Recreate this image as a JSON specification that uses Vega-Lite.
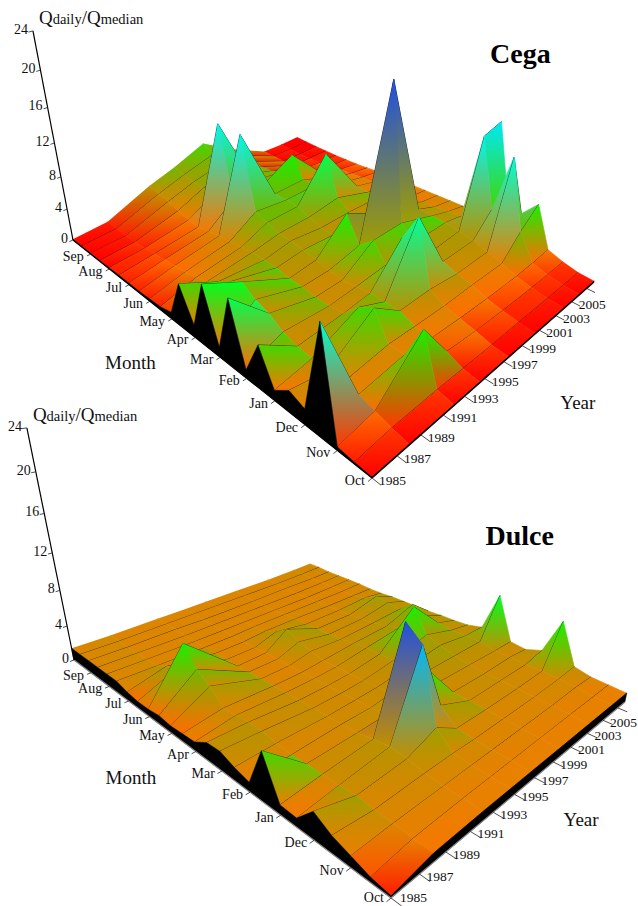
{"$schema":"https://vega.github.io/schema/vega-lite/v6.json","width":638,"height":906,"padding":0,"autosize":{"type":"none"},"background":"white","config":{"view":{"stroke":null}},
"params":[{"name":"kA","value":[-266.76,-272.6]},{"name":"kB","value":[423.9,519]},{"name":"kC","value":[372,391]},{"name":"kD","value":[-132,158.2]},{"name":"kE","value":[-100.15,124.2]},{"name":"kF","value":[478,898]},{"name":"kG","value":[0.4417,0.6003]},{"name":"kH","value":[0.3399,0.4561]},{"name":"kI","value":[-0.008045,-0.0096]},{"name":"kVX","value":[332,354]},{"name":"kVY","value":[1592,2040]},
{"name":"kRamp","value":["#ff0000","#ff1c00","#ff3800","#ff5400","#ff6c00","#f57800","#e88000","#dc8500","#d08a00","#c48e00","#b89200","#ac9800","#a09e00","#70b800","#40d800","#18f000","#00ff20","#00ff50","#00ff70","#00ff98","#00ffb8","#00ffd0","#00f8e8","#00e8f8","#00d0f8","#00b8f8","#0098f0","#1080e8","#1868e0","#2050e0","#1840d8","#1030d0","#0820c8","#0010c0"]}],
"datasets":{"grid":[
{"p":0,"y":2008,"m":12,"q":0.1},{"p":0,"y":2006,"m":12,"q":0.1},{"p":0,"y":2004,"m":12,"q":0.2},{"p":0,"y":2000.5,"m":12,"q":2.5},{"p":0,"y":1997.5,"m":12,"q":5},{"p":0,"y":1994.5,"m":12,"q":3.5},{"p":0,"y":1992,"m":12,"q":2.5},{"p":0,"y":1988,"m":12,"q":0.3},{"p":0,"y":1985,"m":12,"q":0.1},
{"p":0,"y":2008,"m":11.5,"q":0.1},{"p":0,"y":2006,"m":11.5,"q":0.1},{"p":0,"y":2004,"m":11.5,"q":0.2},{"p":0,"y":2000.5,"m":11.5,"q":2.3},{"p":0,"y":1997.5,"m":11.5,"q":4.2},{"p":0,"y":1994.5,"m":11.5,"q":3.2},{"p":0,"y":1992,"m":11.5,"q":2.2},{"p":0,"y":1988,"m":11.5,"q":0.25},{"p":0,"y":1985,"m":11.5,"q":0.1},
{"p":0,"y":2008,"m":11,"q":0.1},{"p":0,"y":2006,"m":11,"q":0.1},{"p":0,"y":2004,"m":11,"q":0.2},{"p":0,"y":2000.5,"m":11,"q":2.2},{"p":0,"y":1997.5,"m":11,"q":3.8},{"p":0,"y":1994.5,"m":11,"q":3},{"p":0,"y":1992,"m":11,"q":2},{"p":0,"y":1988,"m":11,"q":0.2},{"p":0,"y":1985,"m":11,"q":0.1},
{"p":0,"y":2008,"m":10.5,"q":0.15},{"p":0,"y":2006,"m":10.5,"q":0.2},{"p":0,"y":2004,"m":10.5,"q":0.3},{"p":0,"y":2000.5,"m":10.5,"q":2.2},{"p":0,"y":1997.5,"m":10.5,"q":3.6},{"p":0,"y":1994.5,"m":10.5,"q":3},{"p":0,"y":1992,"m":10.5,"q":1.6},{"p":0,"y":1988,"m":10.5,"q":0.3},{"p":0,"y":1985,"m":10.5,"q":0.1},
{"p":0,"y":2008,"m":10,"q":0.2},{"p":0,"y":2006,"m":10,"q":0.3},{"p":0,"y":2004,"m":10,"q":0.5},{"p":0,"y":2000.5,"m":10,"q":2.4},{"p":0,"y":1997.5,"m":10,"q":3.6},{"p":0,"y":1994.5,"m":10,"q":3},{"p":0,"y":1992,"m":10,"q":1.2},{"p":0,"y":1988,"m":10,"q":0.4},{"p":0,"y":1985,"m":10,"q":0.15},
{"p":0,"y":2008,"m":9.5,"q":0.3},{"p":0,"y":2006,"m":9.5,"q":0.5},{"p":0,"y":2004,"m":9.5,"q":1},{"p":0,"y":2000.5,"m":9.5,"q":3},{"p":0,"y":1997.5,"m":9.5,"q":3.6},{"p":0,"y":1994.5,"m":9.5,"q":12.5},{"p":0,"y":1992,"m":9.5,"q":1.2},{"p":0,"y":1988,"m":9.5,"q":0.6},{"p":0,"y":1985,"m":9.5,"q":0.2},
{"p":0,"y":2008,"m":9,"q":0.4},{"p":0,"y":2006,"m":9,"q":0.8},{"p":0,"y":2004,"m":9,"q":1.3},{"p":0,"y":2000.5,"m":9,"q":6},{"p":0,"y":1997.5,"m":9,"q":4},{"p":0,"y":1994.5,"m":9,"q":4},{"p":0,"y":1992,"m":9,"q":1.5},{"p":0,"y":1988,"m":9,"q":0.8},{"p":0,"y":1985,"m":9,"q":0.2},
{"p":0,"y":2008,"m":8.5,"q":0.6},{"p":0,"y":2006,"m":8.5,"q":1},{"p":0,"y":2004,"m":8.5,"q":1.6},{"p":0,"y":2000.5,"m":8.5,"q":3.5},{"p":0,"y":1997.5,"m":8.5,"q":3.5},{"p":0,"y":1994.5,"m":8.5,"q":12.6},{"p":0,"y":1992,"m":8.5,"q":1.8},{"p":0,"y":1988,"m":8.5,"q":1},{"p":0,"y":1985,"m":8.5,"q":0.2},
{"p":0,"y":2008,"m":8,"q":0.8},{"p":0,"y":2006,"m":8,"q":1.2},{"p":0,"y":2004,"m":8,"q":1.8},{"p":0,"y":2000.5,"m":8,"q":3.5},{"p":0,"y":1997.5,"m":8,"q":3.5},{"p":0,"y":1994.5,"m":8,"q":4},{"p":0,"y":1992,"m":8,"q":2},{"p":0,"y":1988,"m":8,"q":1.2},{"p":0,"y":1985,"m":8,"q":0.3},
{"p":0,"y":2008,"m":7.5,"q":1},{"p":0,"y":2006,"m":7.5,"q":1.3},{"p":0,"y":2004,"m":7.5,"q":2},{"p":0,"y":2000.5,"m":7.5,"q":8.3},{"p":0,"y":1997.5,"m":7.5,"q":3.5},{"p":0,"y":1994.5,"m":7.5,"q":3.5},{"p":0,"y":1992,"m":7.5,"q":2.2},{"p":0,"y":1988,"m":7.5,"q":1.5},{"p":0,"y":1985,"m":7.5,"q":0.4},
{"p":0,"y":2008,"m":7,"q":1.1},{"p":0,"y":2006,"m":7,"q":1.4},{"p":0,"y":2004,"m":7,"q":2},{"p":0,"y":2000.5,"m":7,"q":3.5},{"p":0,"y":1997.5,"m":7,"q":3},{"p":0,"y":1994.5,"m":7,"q":3},{"p":0,"y":1992,"m":7,"q":2.5},{"p":0,"y":1988,"m":7,"q":2},{"p":0,"y":1985,"m":7,"q":0.8},
{"p":0,"y":2008,"m":6.5,"q":1.2},{"p":0,"y":2006,"m":6.5,"q":1.5},{"p":0,"y":2004,"m":6.5,"q":2.2},{"p":0,"y":2000.5,"m":6.5,"q":2.5},{"p":0,"y":1997.5,"m":6.5,"q":2.5},{"p":0,"y":1994.5,"m":6.5,"q":3},{"p":0,"y":1992,"m":6.5,"q":2.5},{"p":0,"y":1988,"m":6.5,"q":3},{"p":0,"y":1985,"m":6.5,"q":5.2},
{"p":0,"y":2008,"m":6,"q":1.3},{"p":0,"y":2006,"m":6,"q":1.6},{"p":0,"y":2004,"m":6,"q":2.5},{"p":0,"y":2000.5,"m":6,"q":2.5},{"p":0,"y":1997.5,"m":6,"q":2.5},{"p":0,"y":1994.5,"m":6,"q":2.8},{"p":0,"y":1992,"m":6,"q":2.5},{"p":0,"y":1988,"m":6,"q":4},{"p":0,"y":1985,"m":6,"q":1.5},
{"p":0,"y":2008,"m":5.5,"q":1.4},{"p":0,"y":2006,"m":5.5,"q":1.8},{"p":0,"y":2004,"m":5.5,"q":3},{"p":0,"y":2000.5,"m":5.5,"q":4},{"p":0,"y":1997.5,"m":5.5,"q":6},{"p":0,"y":1994.5,"m":5.5,"q":2.5},{"p":0,"y":1992,"m":5.5,"q":2.2},{"p":0,"y":1988,"m":5.5,"q":5},{"p":0,"y":1985,"m":5.5,"q":7.2},
{"p":0,"y":2008,"m":5,"q":1.5},{"p":0,"y":2006,"m":5,"q":2},{"p":0,"y":2004,"m":5,"q":3},{"p":0,"y":2000.5,"m":5,"q":20},{"p":0,"y":1997.5,"m":5,"q":3},{"p":0,"y":1994.5,"m":5,"q":2.2},{"p":0,"y":1992,"m":5,"q":2.2},{"p":0,"y":1988,"m":5,"q":4},{"p":0,"y":1985,"m":5,"q":1.2},
{"p":0,"y":2008,"m":4.5,"q":1.6},{"p":0,"y":2006,"m":4.5,"q":2.2},{"p":0,"y":2004,"m":4.5,"q":3},{"p":0,"y":2000.5,"m":4.5,"q":4.5},{"p":0,"y":1997.5,"m":4.5,"q":4.5},{"p":0,"y":1994.5,"m":4.5,"q":2},{"p":0,"y":1992,"m":4.5,"q":2},{"p":0,"y":1988,"m":4.5,"q":3.5},{"p":0,"y":1985,"m":4.5,"q":7.8},
{"p":0,"y":2008,"m":4,"q":2},{"p":0,"y":2006,"m":4,"q":2.5},{"p":0,"y":2004,"m":4,"q":3},{"p":0,"y":2000.5,"m":4,"q":3},{"p":0,"y":1997.5,"m":4,"q":2.5},{"p":0,"y":1994.5,"m":4,"q":2.2},{"p":0,"y":1992,"m":4,"q":2},{"p":0,"y":1988,"m":4,"q":2.5},{"p":0,"y":1985,"m":4,"q":1},
{"p":0,"y":2008,"m":3.5,"q":13.6},{"p":0,"y":2006,"m":3.5,"q":13},{"p":0,"y":2004,"m":3.5,"q":2.8},{"p":0,"y":2000.5,"m":3.5,"q":2.5},{"p":0,"y":1997.5,"m":3.5,"q":6.7},{"p":0,"y":1994.5,"m":3.5,"q":2.5},{"p":0,"y":1992,"m":3.5,"q":2.2},{"p":0,"y":1988,"m":3.5,"q":2},{"p":0,"y":1985,"m":3.5,"q":5},
{"p":0,"y":2008,"m":3,"q":5},{"p":0,"y":2006,"m":3,"q":5},{"p":0,"y":2004,"m":3,"q":2.5},{"p":0,"y":2000.5,"m":3,"q":2.5},{"p":0,"y":1997.5,"m":3,"q":9.9},{"p":0,"y":1994.5,"m":3,"q":2.5},{"p":0,"y":1992,"m":3,"q":4},{"p":0,"y":1988,"m":3,"q":1.8},{"p":0,"y":1985,"m":3,"q":1.2},
{"p":0,"y":2008,"m":2.5,"q":4},{"p":0,"y":2006,"m":2.5,"q":12},{"p":0,"y":2004,"m":2.5,"q":2},{"p":0,"y":2000.5,"m":2.5,"q":2},{"p":0,"y":1997.5,"m":2.5,"q":2.5},{"p":0,"y":1994.5,"m":2.5,"q":2.5},{"p":0,"y":1992,"m":2.5,"q":5},{"p":0,"y":1988,"m":2.5,"q":1.6},{"p":0,"y":1985,"m":2.5,"q":2.5},
{"p":0,"y":2008,"m":2,"q":6},{"p":0,"y":2006,"m":2,"q":4},{"p":0,"y":2004,"m":2,"q":1.5},{"p":0,"y":2000.5,"m":2,"q":1.6},{"p":0,"y":1997.5,"m":2,"q":1.6},{"p":0,"y":1994.5,"m":2,"q":1.8},{"p":0,"y":1992,"m":2,"q":2},{"p":0,"y":1988,"m":2,"q":1.5},{"p":0,"y":1985,"m":2,"q":1.8},
{"p":0,"y":2008,"m":1.5,"q":1.2},{"p":0,"y":2006,"m":1.5,"q":1},{"p":0,"y":2004,"m":1.5,"q":0.9},{"p":0,"y":2000.5,"m":1.5,"q":1},{"p":0,"y":1997.5,"m":1.5,"q":1.2},{"p":0,"y":1994.5,"m":1.5,"q":1.5},{"p":0,"y":1992,"m":1.5,"q":2},{"p":0,"y":1988,"m":1.5,"q":1.5},{"p":0,"y":1985,"m":1.5,"q":12},
{"p":0,"y":2008,"m":1,"q":0.6},{"p":0,"y":2006,"m":1,"q":0.5},{"p":0,"y":2004,"m":1,"q":0.5},{"p":0,"y":2000.5,"m":1,"q":0.6},{"p":0,"y":1997.5,"m":1,"q":0.8},{"p":0,"y":1994.5,"m":1,"q":1.2},{"p":0,"y":1992,"m":1,"q":6},{"p":0,"y":1988,"m":1,"q":1},{"p":0,"y":1985,"m":1,"q":0.4},
{"p":0,"y":2008,"m":0.5,"q":0.2},{"p":0,"y":2006,"m":0.5,"q":0.2},{"p":0,"y":2004,"m":0.5,"q":0.2},{"p":0,"y":2000.5,"m":0.5,"q":0.3},{"p":0,"y":1997.5,"m":0.5,"q":0.3},{"p":0,"y":1994.5,"m":0.5,"q":0.4},{"p":0,"y":1992,"m":0.5,"q":0.5},{"p":0,"y":1988,"m":0.5,"q":0.5},{"p":0,"y":1985,"m":0.5,"q":0.2},
{"p":0,"y":2008,"m":0,"q":0.1},{"p":0,"y":2006,"m":0,"q":0.1},{"p":0,"y":2004,"m":0,"q":0.1},{"p":0,"y":2000.5,"m":0,"q":0.1},{"p":0,"y":1997.5,"m":0,"q":0.1},{"p":0,"y":1994.5,"m":0,"q":0.1},{"p":0,"y":1992,"m":0,"q":0.1},{"p":0,"y":1988,"m":0,"q":0.1},{"p":0,"y":1985,"m":0,"q":0.1},
{"p":1,"y":2008,"m":12,"q":1.5},{"p":1,"y":2006,"m":12,"q":1.4},{"p":1,"y":2003,"m":12,"q":1.3},{"p":1,"y":1999.5,"m":12,"q":1.3},{"p":1,"y":1996.5,"m":12,"q":1.3},{"p":1,"y":1994.5,"m":12,"q":1.3},{"p":1,"y":1992,"m":12,"q":1.3},{"p":1,"y":1988,"m":12,"q":1.3},{"p":1,"y":1985,"m":12,"q":1.4},
{"p":1,"y":2008,"m":11.5,"q":1.5},{"p":1,"y":2006,"m":11.5,"q":1.4},{"p":1,"y":2003,"m":11.5,"q":1.3},{"p":1,"y":1999.5,"m":11.5,"q":1.3},{"p":1,"y":1996.5,"m":11.5,"q":1.3},{"p":1,"y":1994.5,"m":11.5,"q":1.3},{"p":1,"y":1992,"m":11.5,"q":1.3},{"p":1,"y":1988,"m":11.5,"q":1.3},{"p":1,"y":1985,"m":11.5,"q":1.4},
{"p":1,"y":2008,"m":11,"q":1.4},{"p":1,"y":2006,"m":11,"q":1.3},{"p":1,"y":2003,"m":11,"q":1.3},{"p":1,"y":1999.5,"m":11,"q":1.2},{"p":1,"y":1996.5,"m":11,"q":1.2},{"p":1,"y":1994.5,"m":11,"q":1.2},{"p":1,"y":1992,"m":11,"q":1.3},{"p":1,"y":1988,"m":11,"q":1.3},{"p":1,"y":1985,"m":11,"q":1.4},
{"p":1,"y":2008,"m":10.5,"q":1.4},{"p":1,"y":2006,"m":10.5,"q":1.3},{"p":1,"y":2003,"m":10.5,"q":1.2},{"p":1,"y":1999.5,"m":10.5,"q":1.2},{"p":1,"y":1996.5,"m":10.5,"q":1.2},{"p":1,"y":1994.5,"m":10.5,"q":1.2},{"p":1,"y":1992,"m":10.5,"q":1.2},{"p":1,"y":1988,"m":10.5,"q":1.3},{"p":1,"y":1985,"m":10.5,"q":1.4},
{"p":1,"y":2008,"m":10,"q":1.4},{"p":1,"y":2006,"m":10,"q":1.3},{"p":1,"y":2003,"m":10,"q":1.2},{"p":1,"y":1999.5,"m":10,"q":1.2},{"p":1,"y":1996.5,"m":10,"q":1.2},{"p":1,"y":1994.5,"m":10,"q":1.2},{"p":1,"y":1992,"m":10,"q":1.2},{"p":1,"y":1988,"m":10,"q":1.3},{"p":1,"y":1985,"m":10,"q":1.4},
{"p":1,"y":2008,"m":9.5,"q":1.4},{"p":1,"y":2006,"m":9.5,"q":1.3},{"p":1,"y":2003,"m":9.5,"q":1.3},{"p":1,"y":1999.5,"m":9.5,"q":1.3},{"p":1,"y":1996.5,"m":9.5,"q":1.3},{"p":1,"y":1994.5,"m":9.5,"q":1.2},{"p":1,"y":1992,"m":9.5,"q":1.2},{"p":1,"y":1988,"m":9.5,"q":1.3},{"p":1,"y":1985,"m":9.5,"q":1.4},
{"p":1,"y":2008,"m":9,"q":1.3},{"p":1,"y":2006,"m":9,"q":1.3},{"p":1,"y":2003,"m":9,"q":1.3},{"p":1,"y":1999.5,"m":9,"q":1.4},{"p":1,"y":1996.5,"m":9,"q":1.4},{"p":1,"y":1994.5,"m":9,"q":1.2},{"p":1,"y":1992,"m":9,"q":1.2},{"p":1,"y":1988,"m":9,"q":2},{"p":1,"y":1985,"m":9,"q":1},
{"p":1,"y":2008,"m":8.5,"q":1.3},{"p":1,"y":2006,"m":8.5,"q":1.6},{"p":1,"y":2003,"m":8.5,"q":1.4},{"p":1,"y":1999.5,"m":8.5,"q":1.4},{"p":1,"y":1996.5,"m":8.5,"q":2},{"p":1,"y":1994.5,"m":8.5,"q":1.2},{"p":1,"y":1992,"m":8.5,"q":1.2},{"p":1,"y":1988,"m":8.5,"q":2.5},{"p":1,"y":1985,"m":8.5,"q":0.8},
{"p":1,"y":2008,"m":8,"q":1.4},{"p":1,"y":2006,"m":8,"q":2.4},{"p":1,"y":2003,"m":8,"q":1.5},{"p":1,"y":1999.5,"m":8,"q":1.5},{"p":1,"y":1996.5,"m":8,"q":3},{"p":1,"y":1994.5,"m":8,"q":1.3},{"p":1,"y":1992,"m":8,"q":1.2},{"p":1,"y":1988,"m":8,"q":6},{"p":1,"y":1985,"m":8,"q":0.8},
{"p":1,"y":2008,"m":7.5,"q":1.4},{"p":1,"y":2006,"m":7.5,"q":2.2},{"p":1,"y":2003,"m":7.5,"q":1.6},{"p":1,"y":1999.5,"m":7.5,"q":1.5},{"p":1,"y":1996.5,"m":7.5,"q":2.2},{"p":1,"y":1994.5,"m":7.5,"q":1.3},{"p":1,"y":1992,"m":7.5,"q":1.3},{"p":1,"y":1988,"m":7.5,"q":4},{"p":1,"y":1985,"m":7.5,"q":1},
{"p":1,"y":2008,"m":7,"q":1.4},{"p":1,"y":2006,"m":7,"q":2},{"p":1,"y":2003,"m":7,"q":1.8},{"p":1,"y":1999.5,"m":7,"q":1.6},{"p":1,"y":1996.5,"m":7,"q":1.8},{"p":1,"y":1994.5,"m":7,"q":1.3},{"p":1,"y":1992,"m":7,"q":1.3},{"p":1,"y":1988,"m":7,"q":3},{"p":1,"y":1985,"m":7,"q":0.8},
{"p":1,"y":2008,"m":6.5,"q":1.4},{"p":1,"y":2006,"m":6.5,"q":3.2},{"p":1,"y":2003,"m":6.5,"q":2},{"p":1,"y":1999.5,"m":6.5,"q":1.8},{"p":1,"y":1996.5,"m":6.5,"q":1.5},{"p":1,"y":1994.5,"m":6.5,"q":1.3},{"p":1,"y":1992,"m":6.5,"q":1.3},{"p":1,"y":1988,"m":6.5,"q":1.5},{"p":1,"y":1985,"m":6.5,"q":0.9},
{"p":1,"y":2008,"m":6,"q":1.5},{"p":1,"y":2006,"m":6,"q":2.4},{"p":1,"y":2003,"m":6,"q":2.5},{"p":1,"y":1999.5,"m":6,"q":2},{"p":1,"y":1996.5,"m":6,"q":1.5},{"p":1,"y":1994.5,"m":6,"q":1.4},{"p":1,"y":1992,"m":6,"q":1.4},{"p":1,"y":1988,"m":6,"q":1.6},{"p":1,"y":1985,"m":6,"q":1},
{"p":1,"y":2008,"m":5.5,"q":1.5},{"p":1,"y":2006,"m":5.5,"q":2.2},{"p":1,"y":2003,"m":5.5,"q":5.6},{"p":1,"y":1999.5,"m":5.5,"q":2},{"p":1,"y":1996.5,"m":5.5,"q":1.5},{"p":1,"y":1994.5,"m":5.5,"q":1.4},{"p":1,"y":1992,"m":5.5,"q":1.4},{"p":1,"y":1988,"m":5.5,"q":1.8},{"p":1,"y":1985,"m":5.5,"q":1.9},
{"p":1,"y":2008,"m":5,"q":1.6},{"p":1,"y":2006,"m":5,"q":2},{"p":1,"y":2003,"m":5,"q":3},{"p":1,"y":1999.5,"m":5,"q":2},{"p":1,"y":1996.5,"m":5,"q":1.5},{"p":1,"y":1994.5,"m":5,"q":1.4},{"p":1,"y":1992,"m":5,"q":1.4},{"p":1,"y":1988,"m":5,"q":1.8},{"p":1,"y":1985,"m":5,"q":2},
{"p":1,"y":2008,"m":4.5,"q":2},{"p":1,"y":2006,"m":4.5,"q":2},{"p":1,"y":2003,"m":4.5,"q":2.5},{"p":1,"y":1999.5,"m":4.5,"q":2},{"p":1,"y":1996.5,"m":4.5,"q":1.6},{"p":1,"y":1994.5,"m":4.5,"q":1.5},{"p":1,"y":1992,"m":4.5,"q":1.4},{"p":1,"y":1988,"m":4.5,"q":1.5},{"p":1,"y":1985,"m":4.5,"q":1.4},
{"p":1,"y":2008,"m":4,"q":6.4},{"p":1,"y":2006,"m":4,"q":2},{"p":1,"y":2003,"m":4,"q":2},{"p":1,"y":1999.5,"m":4,"q":2},{"p":1,"y":1996.5,"m":4,"q":1.8},{"p":1,"y":1994.5,"m":4,"q":1.5},{"p":1,"y":1992,"m":4,"q":1.5},{"p":1,"y":1988,"m":4,"q":1.3},{"p":1,"y":1985,"m":4,"q":1},
{"p":1,"y":2008,"m":3.5,"q":1.6},{"p":1,"y":2006,"m":3.5,"q":1.6},{"p":1,"y":2003,"m":3.5,"q":1.7},{"p":1,"y":1999.5,"m":3.5,"q":1.8},{"p":1,"y":1996.5,"m":3.5,"q":2.2},{"p":1,"y":1994.5,"m":3.5,"q":1.6},{"p":1,"y":1992,"m":3.5,"q":1.5},{"p":1,"y":1988,"m":3.5,"q":1.4},{"p":1,"y":1985,"m":3.5,"q":5},
{"p":1,"y":2008,"m":3,"q":1.4},{"p":1,"y":2006,"m":3,"q":1.6},{"p":1,"y":2003,"m":3,"q":1.5},{"p":1,"y":1999.5,"m":3,"q":1.6},{"p":1,"y":1996.5,"m":3,"q":6},{"p":1,"y":1994.5,"m":3,"q":11.5},{"p":1,"y":1992,"m":3,"q":1.8},{"p":1,"y":1988,"m":3,"q":1.4},{"p":1,"y":1985,"m":3,"q":1},
{"p":1,"y":2008,"m":2.5,"q":2},{"p":1,"y":2006,"m":2.5,"q":1.5},{"p":1,"y":2003,"m":2.5,"q":1.5},{"p":1,"y":1999.5,"m":2.5,"q":1.5},{"p":1,"y":1996.5,"m":2.5,"q":3},{"p":1,"y":1994.5,"m":2.5,"q":10.1},{"p":1,"y":1992,"m":2.5,"q":2},{"p":1,"y":1988,"m":2.5,"q":1.4},{"p":1,"y":1985,"m":2.5,"q":0.9},
{"p":1,"y":2008,"m":2,"q":6},{"p":1,"y":2006,"m":2,"q":1.5},{"p":1,"y":2003,"m":2,"q":1.4},{"p":1,"y":1999.5,"m":2,"q":1.4},{"p":1,"y":1996.5,"m":2,"q":1.5},{"p":1,"y":1994.5,"m":2,"q":3},{"p":1,"y":1992,"m":2,"q":1.8},{"p":1,"y":1988,"m":2,"q":1.5},{"p":1,"y":1985,"m":2,"q":2.7},
{"p":1,"y":2008,"m":1.5,"q":1.6},{"p":1,"y":2006,"m":1.5,"q":1.4},{"p":1,"y":2003,"m":1.5,"q":1.3},{"p":1,"y":1999.5,"m":1.5,"q":1.3},{"p":1,"y":1996.5,"m":1.5,"q":1.3},{"p":1,"y":1994.5,"m":1.5,"q":1.4},{"p":1,"y":1992,"m":1.5,"q":1.4},{"p":1,"y":1988,"m":1.5,"q":1.3},{"p":1,"y":1985,"m":1.5,"q":1.7},
{"p":1,"y":2008,"m":1,"q":1.2},{"p":1,"y":2006,"m":1,"q":1.3},{"p":1,"y":2003,"m":1,"q":1.2},{"p":1,"y":1999.5,"m":1,"q":1.2},{"p":1,"y":1996.5,"m":1,"q":1.2},{"p":1,"y":1994.5,"m":1,"q":1.2},{"p":1,"y":1992,"m":1,"q":1.2},{"p":1,"y":1988,"m":1,"q":1.2},{"p":1,"y":1985,"m":1,"q":1.1},
{"p":1,"y":2008,"m":0.5,"q":1.1},{"p":1,"y":2006,"m":0.5,"q":1.1},{"p":1,"y":2003,"m":0.5,"q":1.1},{"p":1,"y":1999.5,"m":0.5,"q":1.1},{"p":1,"y":1996.5,"m":0.5,"q":1.1},{"p":1,"y":1994.5,"m":0.5,"q":1.1},{"p":1,"y":1992,"m":0.5,"q":1.1},{"p":1,"y":1988,"m":0.5,"q":1},{"p":1,"y":1985,"m":0.5,"q":0.5},
{"p":1,"y":2008,"m":0,"q":1},{"p":1,"y":2006,"m":0,"q":1},{"p":1,"y":2003,"m":0,"q":1},{"p":1,"y":1999.5,"m":0,"q":1},{"p":1,"y":1996.5,"m":0,"q":1},{"p":1,"y":1994.5,"m":0,"q":1},{"p":1,"y":1992,"m":0,"q":1},{"p":1,"y":1988,"m":0,"q":0.9},{"p":1,"y":1985,"m":0,"q":0.2}
],
"axes":[{"p":0,"a":"m","m":0,"y":1985,"z":0},{"p":0,"a":"m","m":12,"y":1985,"z":0},{"p":0,"a":"y","m":0,"y":1985,"z":0},{"p":0,"a":"y","m":0,"y":2008,"z":0},{"p":0,"a":"z","m":12,"y":1985,"z":0},{"p":0,"a":"z","m":12,"y":1985,"z":24},{"p":1,"a":"m","m":0,"y":1985,"z":0},{"p":1,"a":"m","m":12,"y":1985,"z":0},{"p":1,"a":"y","m":0,"y":1985,"z":0},{"p":1,"a":"y","m":0,"y":2008,"z":0},{"p":1,"a":"z","m":12,"y":1985,"z":0},{"p":1,"a":"z","m":12,"y":1985,"z":24}],
"ticks":[
{"p":0,"t":"m","l":"Oct","m":0,"y":1985,"z":0},{"p":0,"t":"m","l":"Nov","m":1,"y":1985,"z":0},{"p":0,"t":"m","l":"Dec","m":2,"y":1985,"z":0},{"p":0,"t":"m","l":"Jan","m":3,"y":1985,"z":0},{"p":0,"t":"m","l":"Feb","m":4,"y":1985,"z":0},{"p":0,"t":"m","l":"Mar","m":5,"y":1985,"z":0},{"p":0,"t":"m","l":"Apr","m":6,"y":1985,"z":0},{"p":0,"t":"m","l":"May","m":7,"y":1985,"z":0},{"p":0,"t":"m","l":"Jun","m":8,"y":1985,"z":0},{"p":0,"t":"m","l":"Jul","m":9,"y":1985,"z":0},{"p":0,"t":"m","l":"Aug","m":10,"y":1985,"z":0},{"p":0,"t":"m","l":"Sep","m":11,"y":1985,"z":0},
{"p":1,"t":"m","l":"Oct","m":0,"y":1985,"z":0},{"p":1,"t":"m","l":"Nov","m":1,"y":1985,"z":0},{"p":1,"t":"m","l":"Dec","m":2,"y":1985,"z":0},{"p":1,"t":"m","l":"Jan","m":3,"y":1985,"z":0},{"p":1,"t":"m","l":"Feb","m":4,"y":1985,"z":0},{"p":1,"t":"m","l":"Mar","m":5,"y":1985,"z":0},{"p":1,"t":"m","l":"Apr","m":6,"y":1985,"z":0},{"p":1,"t":"m","l":"May","m":7,"y":1985,"z":0},{"p":1,"t":"m","l":"Jun","m":8,"y":1985,"z":0},{"p":1,"t":"m","l":"Jul","m":9,"y":1985,"z":0},{"p":1,"t":"m","l":"Aug","m":10,"y":1985,"z":0},{"p":1,"t":"m","l":"Sep","m":11,"y":1985,"z":0},
{"p":0,"t":"y","l":"1985","m":0,"y":1985,"z":0},{"p":0,"t":"y","l":"1987","m":0,"y":1987,"z":0},{"p":0,"t":"y","l":"1989","m":0,"y":1989,"z":0},{"p":0,"t":"y","l":"1991","m":0,"y":1991,"z":0},{"p":0,"t":"y","l":"1993","m":0,"y":1993,"z":0},{"p":0,"t":"y","l":"1995","m":0,"y":1995,"z":0},{"p":0,"t":"y","l":"1997","m":0,"y":1997,"z":0},{"p":0,"t":"y","l":"1999","m":0,"y":1999,"z":0},{"p":0,"t":"y","l":"2001","m":0,"y":2001,"z":0},{"p":0,"t":"y","l":"2003","m":0,"y":2003,"z":0},{"p":0,"t":"y","l":"2005","m":0,"y":2005,"z":0},{"p":0,"t":"y","l":"","m":0,"y":2007,"z":0},
{"p":1,"t":"y","l":"1985","m":0,"y":1985,"z":0},{"p":1,"t":"y","l":"1987","m":0,"y":1987,"z":0},{"p":1,"t":"y","l":"1989","m":0,"y":1989,"z":0},{"p":1,"t":"y","l":"1991","m":0,"y":1991,"z":0},{"p":1,"t":"y","l":"1993","m":0,"y":1993,"z":0},{"p":1,"t":"y","l":"1995","m":0,"y":1995,"z":0},{"p":1,"t":"y","l":"1997","m":0,"y":1997,"z":0},{"p":1,"t":"y","l":"1999","m":0,"y":1999,"z":0},{"p":1,"t":"y","l":"2001","m":0,"y":2001,"z":0},{"p":1,"t":"y","l":"2003","m":0,"y":2003,"z":0},{"p":1,"t":"y","l":"2005","m":0,"y":2005,"z":0},{"p":1,"t":"y","l":"","m":0,"y":2007,"z":0},
{"p":0,"t":"z","l":"0","m":12,"y":1985,"z":0},{"p":0,"t":"z","l":"4","m":12,"y":1985,"z":4},{"p":0,"t":"z","l":"8","m":12,"y":1985,"z":8},{"p":0,"t":"z","l":"12","m":12,"y":1985,"z":12},{"p":0,"t":"z","l":"16","m":12,"y":1985,"z":16},{"p":0,"t":"z","l":"20","m":12,"y":1985,"z":20},{"p":0,"t":"z","l":"24","m":12,"y":1985,"z":24},
{"p":1,"t":"z","l":"0","m":12,"y":1985,"z":0},{"p":1,"t":"z","l":"4","m":12,"y":1985,"z":4},{"p":1,"t":"z","l":"8","m":12,"y":1985,"z":8},{"p":1,"t":"z","l":"12","m":12,"y":1985,"z":12},{"p":1,"t":"z","l":"16","m":12,"y":1985,"z":16},{"p":1,"t":"z","l":"20","m":12,"y":1985,"z":20},{"p":1,"t":"z","l":"24","m":12,"y":1985,"z":24}],
"ann":[{"p":0,"k":"title","l":"Cega","m":2.2,"y":2003.9,"z":24},{"p":1,"k":"title","l":"Dulce","m":-0.7,"y":1989.6,"z":24},{"p":0,"k":"month","l":"Month","m":6,"y":1985,"z":0},{"p":1,"k":"month","l":"Month","m":6,"y":1985,"z":0},{"p":0,"k":"year","l":"Year","m":0,"y":1997,"z":0},{"p":1,"k":"year","l":"Year","m":0,"y":1994,"z":2.4},{"p":0,"k":"top","l":"","m":12,"y":1985,"z":24},{"p":1,"k":"top","l":"","m":12,"y":1985,"z":24}]},
"layer":[
{"data":{"name":"grid"},"transform":[
{"window":[{"op":"lead","field":"q","as":"q10"},{"op":"lead","field":"m","as":"m1"}],"groupby":["p","y"],"sort":[{"field":"m","order":"ascending"}]},
{"window":[{"op":"lead","field":"q","as":"q01"},{"op":"lead","field":"q10","as":"q11"},{"op":"lead","field":"y","as":"y1"}],"groupby":["p","m"],"sort":[{"field":"y","order":"ascending"}]},
{"filter":"isValid(datum.m1)&&isValid(datum.y1)"},
{"calculate":"min(datum.q,datum.q01,datum.q10,datum.q11)","as":"ql"},
{"calculate":"max(datum.q,datum.q01,datum.q10,datum.q11)","as":"qh"},
{"calculate":"datum.p==0?datum.ql:datum.ql<=1.5?datum.ql*1.4:datum.ql<=6?2.1+(datum.ql-1.5)*0.867:6+(datum.ql-6)*2.5","as":"tl"},
{"calculate":"datum.p==0?datum.qh:datum.qh<=1.5?datum.qh*1.4:datum.qh<=6?2.1+(datum.qh-1.5)*0.867:6+(datum.qh-6)*2.5","as":"th"},
{"calculate":"{gradient:'linear',x1:0,y1:1,x2:0,y2:0,stops:[{offset:0,color:kRamp[datum.tl<=3?round(datum.tl*4):min(33,12+round(datum.tl-3))]},{offset:1,color:kRamp[datum.th<=3?round(datum.th*4):min(33,12+round(datum.th-3))]}]}","as":"g"},
{"calculate":"datum.q","as":"e0"},{"calculate":"datum.q01","as":"e1"},
{"fold":["q11","q01","q","q10","e0","e1"],"as":["k","zz"]},
{"calculate":"indexof(['q11','q01','q','q10','e0','e1'],datum.k)","as":"o"},
{"calculate":"datum.o>=4","as":"ed"},
{"calculate":"datum.p+'_'+datum.m+'_'+datum.y+(datum.ed?'e':'f')","as":"c"},
{"calculate":"datum.ed?'transparent':datum.g","as":"f"},
{"calculate":"datum.ed?'#000000':datum.g","as":"s"},
{"calculate":"(datum.k=='q11'||datum.k=='q10'?datum.m1:datum.m)/12","as":"u"},
{"calculate":"((datum.k=='q01'||datum.k=='q11'||datum.k=='e1'?datum.y1:datum.y)-1985)/23","as":"v"},
{"calculate":"kG[datum.p]*datum.u+kH[datum.p]*datum.v+kI[datum.p]*datum.zz+1","as":"w"},
{"calculate":"(kA[datum.p]*datum.u+kB[datum.p]*datum.v+kC[datum.p]+kI[datum.p]*kVX[datum.p]*datum.zz)/datum.w","as":"sx"},
{"calculate":"(kD[datum.p]*datum.u+kE[datum.p]*datum.v+kF[datum.p]+kI[datum.p]*kVY[datum.p]*datum.zz)/datum.w","as":"sy"}],
"mark":{"type":"line","strokeWidth":0.6,"interpolate":"linear"},
"encoding":{"x":{"field":"sx","type":"quantitative","scale":{"domain":[0,638],"nice":false,"zero":false},"axis":null},"y":{"field":"sy","type":"quantitative","scale":{"domain":[906,0],"nice":false,"zero":false},"axis":null},"detail":{"field":"c"},"order":{"field":"o"},"fill":{"field":"f","type":"nominal","scale":null},"stroke":{"field":"s","type":"nominal","scale":null}}},
{"data":{"name":"grid"},"transform":[{"filter":"datum.y==1985"},{"calculate":"0","as":"z0"},{"fold":["q","z0"],"as":["k","zz"]},{"calculate":"datum.k=='q'?datum.m:100-datum.m","as":"o"},
{"calculate":"datum.m/12","as":"u"},{"calculate":"(datum.y-1985)/23","as":"v"},
{"calculate":"kG[datum.p]*datum.u+kH[datum.p]*datum.v+kI[datum.p]*datum.zz+1","as":"w"},
{"calculate":"(kA[datum.p]*datum.u+kB[datum.p]*datum.v+kC[datum.p]+kI[datum.p]*kVX[datum.p]*datum.zz)/datum.w","as":"sx"},
{"calculate":"(kD[datum.p]*datum.u+kE[datum.p]*datum.v+kF[datum.p]+kI[datum.p]*kVY[datum.p]*datum.zz)/datum.w","as":"sy"}],
"mark":{"type":"line","fill":"#000","stroke":"#000","strokeWidth":0.5},
"encoding":{"x":{"field":"sx","type":"quantitative","scale":{"domain":[0,638],"nice":false,"zero":false},"axis":null},"y":{"field":"sy","type":"quantitative","scale":{"domain":[906,0],"nice":false,"zero":false},"axis":null},"detail":{"field":"p"},"order":{"field":"o"}}},
{"data":{"name":"grid"},"transform":[{"filter":"datum.m==0"},{"calculate":"0","as":"z0"},{"fold":["q","z0"],"as":["k","zz"]},{"calculate":"datum.k=='q'?datum.y:5000-datum.y","as":"o"},
{"calculate":"datum.m/12","as":"u"},{"calculate":"(datum.y-1985)/23","as":"v"},
{"calculate":"kG[datum.p]*datum.u+kH[datum.p]*datum.v+kI[datum.p]*datum.zz+1","as":"w"},
{"calculate":"(kA[datum.p]*datum.u+kB[datum.p]*datum.v+kC[datum.p]+kI[datum.p]*kVX[datum.p]*datum.zz)/datum.w","as":"sx"},
{"calculate":"(kD[datum.p]*datum.u+kE[datum.p]*datum.v+kF[datum.p]+kI[datum.p]*kVY[datum.p]*datum.zz)/datum.w","as":"sy"}],
"mark":{"type":"line","fill":"#000","stroke":"#000","strokeWidth":0.5},
"encoding":{"x":{"field":"sx","type":"quantitative","scale":{"domain":[0,638],"nice":false,"zero":false},"axis":null},"y":{"field":"sy","type":"quantitative","scale":{"domain":[906,0],"nice":false,"zero":false},"axis":null},"detail":{"field":"p"},"order":{"field":"o"}}},
{"data":{"name":"axes"},"transform":[
{"calculate":"datum.m/12","as":"u"},{"calculate":"(datum.y-1985)/23","as":"v"},
{"calculate":"kG[datum.p]*datum.u+kH[datum.p]*datum.v+kI[datum.p]*datum.z+1","as":"w"},
{"calculate":"(kA[datum.p]*datum.u+kB[datum.p]*datum.v+kC[datum.p]+kI[datum.p]*kVX[datum.p]*datum.z)/datum.w","as":"sx"},
{"calculate":"(kD[datum.p]*datum.u+kE[datum.p]*datum.v+kF[datum.p]+kI[datum.p]*kVY[datum.p]*datum.z)/datum.w","as":"sy"},
{"calculate":"datum.p+datum.a","as":"c"}],
"mark":{"type":"line","strokeWidth":1.2},
"encoding":{"x":{"field":"sx","type":"quantitative","scale":{"domain":[0,638],"nice":false,"zero":false},"axis":null},"y":{"field":"sy","type":"quantitative","scale":{"domain":[906,0],"nice":false,"zero":false},"axis":null},"detail":{"field":"c"},"order":{"field":"z"},"stroke":{"condition":{"test":"datum.p==1&&datum.a!='z'","value":"#888888"},"value":"#000000"}}},
{"data":{"name":"ticks"},"transform":[
{"calculate":"datum.m/12","as":"u"},{"calculate":"(datum.y-1985)/23","as":"v"},
{"calculate":"kG[datum.p]*datum.u+kH[datum.p]*datum.v+kI[datum.p]*datum.z+1","as":"w"},
{"calculate":"(kA[datum.p]*datum.u+kB[datum.p]*datum.v+kC[datum.p]+kI[datum.p]*kVX[datum.p]*datum.z)/datum.w","as":"sx"},
{"calculate":"(kD[datum.p]*datum.u+kE[datum.p]*datum.v+kF[datum.p]+kI[datum.p]*kVY[datum.p]*datum.z)/datum.w","as":"sy"},
{"calculate":"(datum.t=='y'?datum.m-0.25:datum.m)/12","as":"u2"},{"calculate":"((datum.t=='y'?datum.y:datum.y-0.3)-1985)/23","as":"v2"},
{"calculate":"kG[datum.p]*datum.u2+kH[datum.p]*datum.v2+kI[datum.p]*datum.z+1","as":"w2"},
{"calculate":"(kA[datum.p]*datum.u2+kB[datum.p]*datum.v2+kC[datum.p]+kI[datum.p]*kVX[datum.p]*datum.z)/datum.w2","as":"sx2"},
{"calculate":"(kD[datum.p]*datum.u2+kE[datum.p]*datum.v2+kF[datum.p]+kI[datum.p]*kVY[datum.p]*datum.z)/datum.w2","as":"sy2"}],
"layer":[
{"mark":{"type":"rule","strokeWidth":0.8,"color":"#222222"},"encoding":{"x":{"field":"sx","type":"quantitative","scale":{"domain":[0,638],"nice":false,"zero":false},"axis":null},"y":{"field":"sy","type":"quantitative","scale":{"domain":[906,0],"nice":false,"zero":false},"axis":null},"x2":{"field":"sx2"},"y2":{"field":"sy2"}}},
{"transform":[{"filter":"datum.t=='m'&&!(datum.p==1&&datum.m==0)"}],"mark":{"type":"text","font":"Liberation Serif","fontSize":14,"align":"right","baseline":"middle","dx":-7,"dy":3,"color":"#111111"},"encoding":{"x":{"field":"sx","type":"quantitative","scale":{"domain":[0,638],"nice":false,"zero":false},"axis":null},"y":{"field":"sy","type":"quantitative","scale":{"domain":[906,0],"nice":false,"zero":false},"axis":null},"text":{"field":"l"}}},
{"transform":[{"filter":"datum.t=='m'&&datum.p==1&&datum.m==0"}],"mark":{"type":"text","font":"Liberation Serif","fontSize":14,"align":"right","baseline":"middle","dx":-7,"dy":0,"color":"#111111"},"encoding":{"x":{"field":"sx","type":"quantitative","scale":{"domain":[0,638],"nice":false,"zero":false},"axis":null},"y":{"field":"sy","type":"quantitative","scale":{"domain":[906,0],"nice":false,"zero":false},"axis":null},"text":{"field":"l"}}},
{"transform":[{"filter":"datum.t=='y'&&!(datum.p==1&&datum.y==1985)"}],"mark":{"type":"text","font":"Liberation Serif","fontSize":13.5,"align":"left","baseline":"middle","dx":7,"dy":3,"color":"#111111"},"encoding":{"x":{"field":"sx","type":"quantitative","scale":{"domain":[0,638],"nice":false,"zero":false},"axis":null},"y":{"field":"sy","type":"quantitative","scale":{"domain":[906,0],"nice":false,"zero":false},"axis":null},"text":{"field":"l"}}},
{"transform":[{"filter":"datum.t=='y'&&datum.p==1&&datum.y==1985"}],"mark":{"type":"text","font":"Liberation Serif","fontSize":13.5,"align":"left","baseline":"middle","dx":9,"dy":0,"color":"#111111"},"encoding":{"x":{"field":"sx","type":"quantitative","scale":{"domain":[0,638],"nice":false,"zero":false},"axis":null},"y":{"field":"sy","type":"quantitative","scale":{"domain":[906,0],"nice":false,"zero":false},"axis":null},"text":{"field":"l"}}},
{"transform":[{"filter":"datum.t=='z'"}],"mark":{"type":"text","font":"Liberation Serif","fontSize":14,"align":"right","baseline":"middle","dx":-5,"dy":-1,"color":"#111111"},"encoding":{"x":{"field":"sx","type":"quantitative","scale":{"domain":[0,638],"nice":false,"zero":false},"axis":null},"y":{"field":"sy","type":"quantitative","scale":{"domain":[906,0],"nice":false,"zero":false},"axis":null},"text":{"field":"l"}}}]},
{"data":{"name":"ann"},"transform":[
{"calculate":"datum.m/12","as":"u"},{"calculate":"(datum.y-1985)/23","as":"v"},
{"calculate":"kG[datum.p]*datum.u+kH[datum.p]*datum.v+kI[datum.p]*datum.z+1","as":"w"},
{"calculate":"(kA[datum.p]*datum.u+kB[datum.p]*datum.v+kC[datum.p]+kI[datum.p]*kVX[datum.p]*datum.z)/datum.w","as":"sx"},
{"calculate":"(kD[datum.p]*datum.u+kE[datum.p]*datum.v+kF[datum.p]+kI[datum.p]*kVY[datum.p]*datum.z)/datum.w","as":"sy"}],
"encoding":{"x":{"field":"sx","type":"quantitative","scale":{"domain":[0,638],"nice":false,"zero":false},"axis":null},"y":{"field":"sy","type":"quantitative","scale":{"domain":[906,0],"nice":false,"zero":false},"axis":null}},
"layer":[
{"transform":[{"filter":"datum.k=='title'"}],"mark":{"type":"text","font":"Liberation Serif","fontWeight":"bold","fontSize":28,"align":"center","baseline":"middle","color":"#000000"},"encoding":{"text":{"field":"l"}}},
{"transform":[{"filter":"datum.k=='month'"}],"mark":{"type":"text","font":"Liberation Serif","fontSize":19,"align":"center","baseline":"middle","dx":-65,"dy":26,"color":"#111111"},"encoding":{"text":{"field":"l"}}},
{"transform":[{"filter":"datum.k=='year'"}],"mark":{"type":"text","font":"Liberation Serif","fontSize":19,"align":"center","baseline":"middle","dx":74,"dy":41,"color":"#111111"},"encoding":{"text":{"field":"l"}}},
{"transform":[{"filter":"datum.k=='top'"}],"mark":{"type":"text","font":"Liberation Serif","fontSize":19,"align":"left","baseline":"alphabetic","dx":6,"dy":-7,"color":"#111111","text":"Q"}},
{"transform":[{"filter":"datum.k=='top'"}],"mark":{"type":"text","font":"Liberation Serif","fontSize":14.5,"align":"left","baseline":"alphabetic","dx":19.7,"dy":-7,"color":"#111111","text":"daily"}},
{"transform":[{"filter":"datum.k=='top'"}],"mark":{"type":"text","font":"Liberation Serif","fontSize":19,"align":"left","baseline":"alphabetic","dx":48.7,"dy":-7,"color":"#111111","text":"/Q"}},
{"transform":[{"filter":"datum.k=='top'"}],"mark":{"type":"text","font":"Liberation Serif","fontSize":14.5,"align":"left","baseline":"alphabetic","dx":67.7,"dy":-7,"color":"#111111","text":"median"}}]}
]}
